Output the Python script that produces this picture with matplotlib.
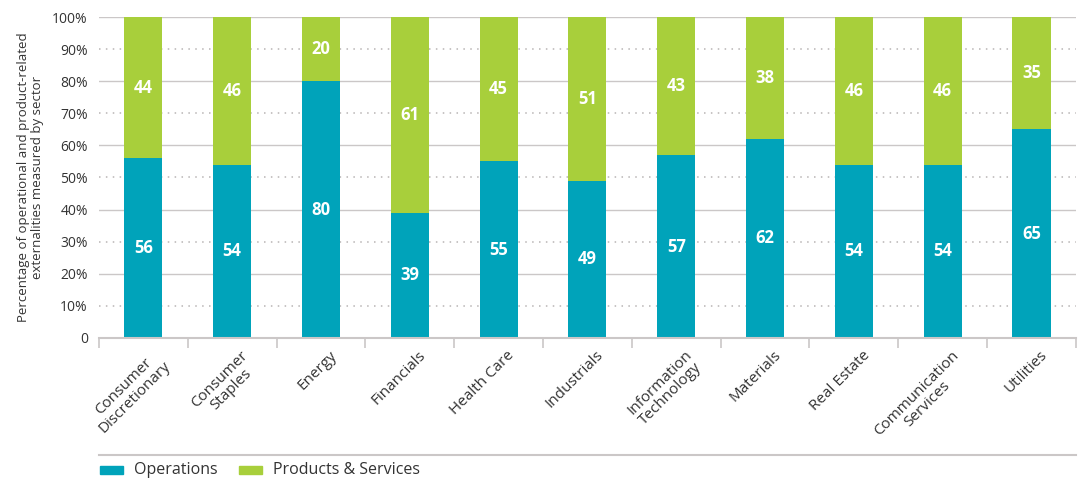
"""Operational vs product-related externalities measured, by sector (stacked 100% bars)."""

import matplotlib.pyplot as plt
import matplotlib.transforms as mtransforms
import numpy as np
from matplotlib.lines import Line2D
from matplotlib.patches import Rectangle

SECTORS = [
    "Consumer\nDiscretionary", "Consumer\nStaples", "Energy", "Financials",
    "Health Care", "Industrials", "Information\nTechnology", "Materials",
    "Real Estate", "Communication\nServices", "Utilities",
]
OPERATIONS = [56, 54, 80, 39, 55, 49, 57, 62, 54, 54, 65]
PRODUCTS = [44, 46, 20, 61, 45, 51, 43, 38, 46, 46, 35]

TEAL = "#00A3BA"
GREEN = "#A8CF3B"
GRID = "#CBC7C7"
TEXT = "#333333"

plt.rcParams["font.family"] = ["Open Sans", "DejaVu Sans"]

fig = plt.figure(figsize=(10.78, 4.82), dpi=100)
ax = fig.add_axes([0.0918, 0.2988, 0.9062, 0.6659])

x = np.arange(len(SECTORS))
width = 0.43

# gridlines: solid every 20%, dotted in between
for y in range(0, 101, 10):
    if y % 20 == 0:
        ax.axhline(y, color=GRID, lw=1.0, zorder=0)
    else:
        ax.axhline(y, color="#B8B4B4", lw=1.1, ls=(0, (1, 3.5)), zorder=0)

ax.bar(x, OPERATIONS, width, color=TEAL, zorder=2, label="Operations")
ax.bar(x, PRODUCTS, width, bottom=OPERATIONS, color=GREEN, zorder=2,
       label="Products & Services")

for xi, o, p in zip(x, OPERATIONS, PRODUCTS):
    ax.text(xi, o / 2, f"{o}", ha="center", va="center", color="white",
            fontsize=12, fontweight="bold", zorder=3)
    ax.text(xi, o + p / 2, f"{p}", ha="center", va="center", color="white",
            fontsize=12, fontweight="bold", zorder=3)

ax.set_xlim(-0.5, len(SECTORS) - 0.5)
ax.set_ylim(0, 100)
ax.set_yticks(range(0, 101, 10))
ax.set_yticklabels(["0"] + [f"{v}%" for v in range(10, 101, 10)], fontsize=10, color=TEXT)
ax.tick_params(axis="y", length=0, pad=8)

ax.set_xticks(x)
ax.set_xticklabels(SECTORS, rotation=45, ha="right", rotation_mode="anchor",
                   fontsize=11, color=TEXT, multialignment="center", linespacing=1.05)
ax.tick_params(axis="x", which="major", length=0, pad=7)
ax.set_xticks(np.arange(-0.5, len(SECTORS)), minor=True)
ax.tick_params(axis="x", which="minor", length=7, width=1.2, color=GRID)
shift = mtransforms.ScaledTranslation(6 / 72, 0, fig.dpi_scale_trans)
for lab in ax.get_xticklabels():
    lab.set_transform(lab.get_transform() + shift)

for side in ("top", "right", "left"):
    ax.spines[side].set_visible(False)
ax.spines["bottom"].set_color(GRID)
ax.spines["bottom"].set_linewidth(1.5)
ax.spines["bottom"].set_zorder(4)

ax.set_ylabel("Percentage of operational and product-related\nexternalities measured by sector",
              fontsize=9.5, color=TEXT, labelpad=6, linespacing=1.1)

# legend strip under the chart
fig.add_artist(Line2D([0.0918, 0.998], [0.056, 0.056], color=GRID, lw=1.5,
                      transform=fig.transFigure))
fig.add_artist(Rectangle((0.093, 0.017), 0.021, 0.017, color=TEAL, transform=fig.transFigure))
fig.text(0.124, 0.025, "Operations", fontsize=11.5, color=TEXT, va="center")
fig.add_artist(Rectangle((0.222, 0.017), 0.021, 0.017, color=GREEN, transform=fig.transFigure))
fig.text(0.253, 0.025, "Products & Services", fontsize=11.5, color=TEXT, va="center")

fig.savefig("out.png", dpi=100)
